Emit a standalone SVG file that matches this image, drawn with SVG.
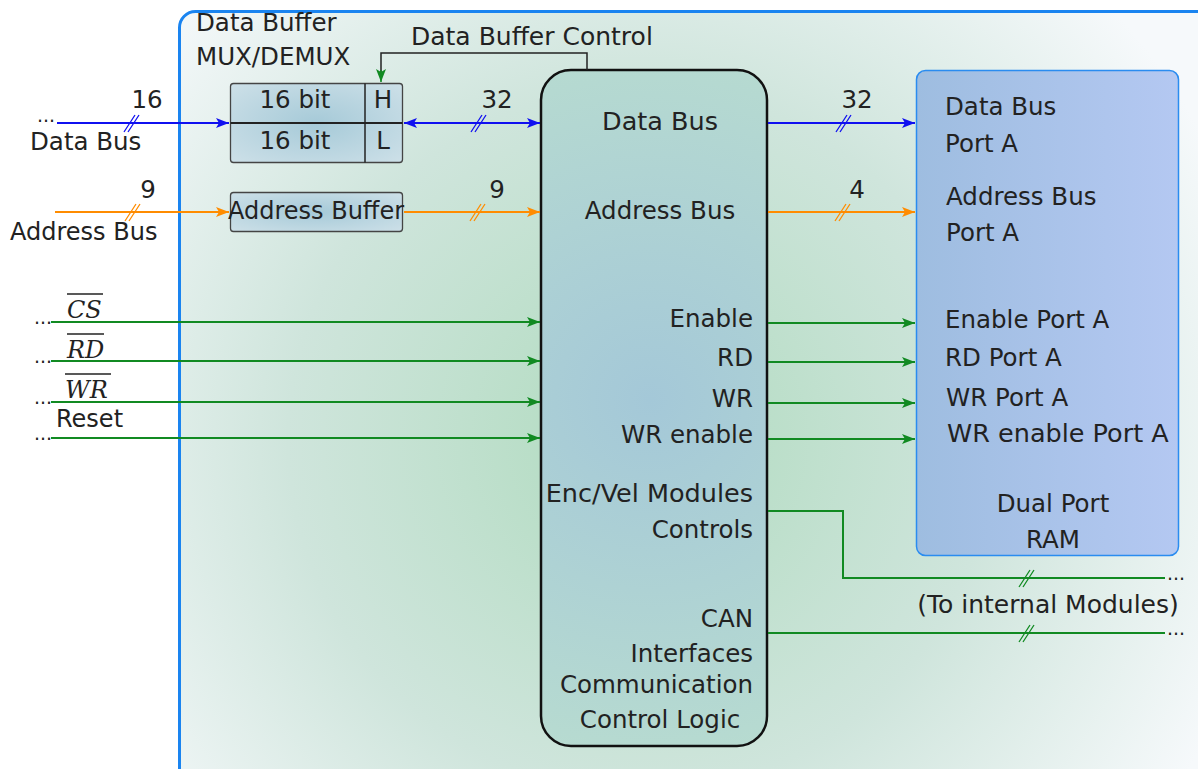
<svg xmlns="http://www.w3.org/2000/svg" width="1198" height="769" viewBox="0 0 1198 769">
  <defs>
    <radialGradient id="bgFill" gradientUnits="userSpaceOnUse" cx="640" cy="440" r="640">
      <stop offset="0" stop-color="#b0dbbf"/>
      <stop offset="0.55" stop-color="#cfe5dc"/>
      <stop offset="1" stop-color="#f6f9fb"/>
    </radialGradient>
    <radialGradient id="coreFill" gradientUnits="userSpaceOnUse" cx="650" cy="400" r="380">
      <stop offset="0" stop-color="#a4c8d8"/>
      <stop offset="1" stop-color="#b8dcd0"/>
    </radialGradient>
    <linearGradient id="ramFill" x1="0" y1="0" x2="1" y2="0">
      <stop offset="0" stop-color="#9ebde0"/>
      <stop offset="1" stop-color="#b4c8f2"/>
    </linearGradient>
    <radialGradient id="bufFill" cx="0.5" cy="0.5" r="0.7">
      <stop offset="0" stop-color="#a6cad8"/>
      <stop offset="1" stop-color="#cde0e8"/>
    </radialGradient>
    <marker id="arBlue" markerUnits="userSpaceOnUse" markerWidth="14" markerHeight="11" refX="13" refY="5.5" orient="auto-start-reverse">
      <path d="M0,0.5 L13,5.5 L0,10.5 L3,5.5 Z" fill="#1010f0"/>
    </marker>
    <marker id="arOrange" markerUnits="userSpaceOnUse" markerWidth="14" markerHeight="11" refX="13" refY="5.5" orient="auto">
      <path d="M0,0.5 L13,5.5 L0,10.5 L3,5.5 Z" fill="#ff8c00"/>
    </marker>
    <marker id="arGreen" markerUnits="userSpaceOnUse" markerWidth="14" markerHeight="11" refX="13" refY="5.5" orient="auto">
      <path d="M0,0.5 L13,5.5 L0,10.5 L3,5.5 Z" fill="#118a22"/>
    </marker>
  </defs>
  <style>
    text { font-family: "DejaVu Sans", "Liberation Sans", sans-serif; font-size: 24.5px; fill: #222; }
    .mid { text-anchor: middle; }
    .end { text-anchor: end; }
    .sm { font-size: 24px; }
    .sig { font-family: "DejaVu Serif", "Liberation Serif", serif; font-style: italic; font-size: 24px; }
    .blue { stroke: #1010f0; stroke-width: 2; fill: none; }
    .orange { stroke: #ff8c00; stroke-width: 2; fill: none; }
    .green { stroke: #118a22; stroke-width: 2; fill: none; }
    .tick { stroke-width: 1.3; }
    .bar { stroke: #222; stroke-width: 1.5; }
    .dots { font-size: 19px; }
  </style>

  <!-- FPGA-side enclosure -->
  <g id="enclosure">
    <rect x="179.5" y="11.5" width="1040" height="790" rx="16" fill="url(#bgFill)" stroke="#1a84f0" stroke-width="3"/>
    <text x="196" y="31">Data Buffer</text>
    <text x="196" y="65">MUX/DEMUX</text>
    <text x="411" y="45" style="font-size:25px">Data Buffer Control</text>
  </g>

  <!-- data buffer MUX/DEMUX -->
  <g id="data-buffer">
    <rect x="230.5" y="83.5" width="172" height="79" rx="3" fill="url(#bufFill)" stroke="#444" stroke-width="1.3"/>
    <line x1="230.5" y1="123" x2="402.5" y2="123" stroke="#222" stroke-width="2"/>
    <line x1="365" y1="83.5" x2="365" y2="162.5" stroke="#222" stroke-width="1.5"/>
    <text class="mid" x="295" y="108">16 bit</text>
    <text class="mid" x="295" y="149">16 bit</text>
    <text class="mid" x="383" y="108">H</text>
    <text class="mid" x="383" y="149">L</text>
  </g>

  <!-- address buffer -->
  <g id="address-buffer">
    <rect x="230.5" y="192.5" width="172" height="39" rx="3" fill="url(#bufFill)" stroke="#444" stroke-width="1.3"/>
    <text class="mid sm" x="316" y="219">Address Buffer</text>
  </g>

  <!-- control logic block -->
  <g id="control-logic">
    <rect x="541" y="70" width="226" height="676" rx="30" fill="url(#coreFill)" stroke="#111" stroke-width="2.5"/>
    <text class="mid" x="660" y="130" style="font-size:25.5px">Data Bus</text>
    <text class="mid" x="660" y="219">Address Bus</text>
    <text class="end" x="753" y="327">Enable</text>
    <text class="end" x="753" y="366">RD</text>
    <text class="end" x="753" y="407">WR</text>
    <text class="end" x="753" y="443">WR enable</text>
    <text class="end" x="753" y="502" style="font-size:25.5px">Enc/Vel Modules</text>
    <text class="end" x="753" y="538">Controls</text>
    <text class="end" x="753" y="627">CAN</text>
    <text class="end" x="753" y="662">Interfaces</text>
    <text class="end" x="753" y="693">Communication</text>
    <text class="mid" x="660" y="728">Control Logic</text>
  </g>

  <!-- dual port RAM -->
  <g id="dual-port-ram">
    <rect x="916.5" y="70.5" width="262" height="485" rx="9" fill="url(#ramFill)" stroke="#2a8cf0" stroke-width="1.5"/>
    <text x="945" y="115">Data Bus</text>
    <text x="945" y="152">Port A</text>
    <text x="946" y="205">Address Bus</text>
    <text x="946" y="241">Port A</text>
    <text x="945" y="328">Enable Port A</text>
    <text x="945" y="366">RD Port A</text>
    <text x="946" y="406">WR Port A</text>
    <text x="947" y="442" style="font-size:25.5px">WR enable Port A</text>
    <text class="mid" x="1053" y="512">Dual Port</text>
    <text class="mid" x="1053" y="548">RAM</text>
  </g>

  <!-- external signal labels -->
  <g id="external-labels">
    <text class="dots" x="37" y="122">...</text>
    <text x="30" y="150">Data Bus</text>
    <text class="mid" x="147" y="108">16</text>
    <text x="10" y="240" class="sm">Address Bus</text>
    <text class="mid" x="148" y="198">9</text>
    <text class="dots" x="34" y="324">...</text>
    <text class="dots" x="34" y="363">...</text>
    <text class="dots" x="34" y="404">...</text>
    <text class="dots" x="34" y="440">...</text>
    <text class="sig" x="67" y="318">CS</text>
    <line class="bar" x1="67" y1="294" x2="103" y2="294"/>
    <text class="sig" x="67" y="358">RD</text>
    <line class="bar" x1="67" y1="334" x2="104" y2="334"/>
    <text class="sig" x="65" y="398">WR</text>
    <line class="bar" x1="65" y1="374" x2="111" y2="374"/>
    <text x="56" y="427" class="sm">Reset</text>
    <text class="mid" x="497" y="108">32</text>
    <text class="mid" x="497" y="198">9</text>
    <text class="mid" x="857" y="108">32</text>
    <text class="mid" x="857" y="198">4</text>
    <text class="dots" x="1167" y="580">...</text>
    <text class="dots" x="1167" y="635">...</text>
    <text class="mid" x="1048" y="613" style="font-size:25px">(To internal Modules)</text>
  </g>

  <!-- connectors -->
  <g id="connectors">
    <!-- data bus -->
    <line class="blue" x1="57" y1="123" x2="229" y2="123" marker-end="url(#arBlue)"/>
    <line class="blue" x1="404" y1="123" x2="540" y2="123" marker-start="url(#arBlue)" marker-end="url(#arBlue)"/>
    <line class="blue" x1="768" y1="123" x2="915" y2="123" marker-end="url(#arBlue)"/>
    <path class="blue tick" d="M124,132 L135,115 M128,132 L139,115 M471,132 L482,115 M475,132 L486,115 M836,132 L847,115 M840,132 L851,115"/>
    <!-- address bus -->
    <line class="orange" x1="55" y1="212" x2="229" y2="212" marker-end="url(#arOrange)"/>
    <line class="orange" x1="404" y1="212" x2="540" y2="212" marker-end="url(#arOrange)"/>
    <line class="orange" x1="768" y1="212" x2="915" y2="212" marker-end="url(#arOrange)"/>
    <path class="orange tick" d="M125,221 L136,204 M129,221 L140,204 M470,221 L481,204 M474,221 L485,204 M835,221 L846,204 M839,221 L850,204"/>
    <!-- control strobes in -->
    <line class="green" x1="51" y1="322" x2="540" y2="322" marker-end="url(#arGreen)"/>
    <line class="green" x1="51" y1="361" x2="540" y2="361" marker-end="url(#arGreen)"/>
    <line class="green" x1="51" y1="402" x2="540" y2="402" marker-end="url(#arGreen)"/>
    <line class="green" x1="51" y1="438" x2="540" y2="438" marker-end="url(#arGreen)"/>
    <!-- port A strobes -->
    <line class="green" x1="768" y1="323" x2="915" y2="323" marker-end="url(#arGreen)"/>
    <line class="green" x1="768" y1="362" x2="915" y2="362" marker-end="url(#arGreen)"/>
    <line class="green" x1="768" y1="403" x2="915" y2="403" marker-end="url(#arGreen)"/>
    <line class="green" x1="768" y1="439" x2="915" y2="439" marker-end="url(#arGreen)"/>
    <!-- module buses -->
    <polyline class="green" points="768,511 843,511 843,578 1165,578"/>
    <line class="green" x1="768" y1="633" x2="1165" y2="633"/>
    <path class="green tick" d="M1019,587 L1030,570 M1023,587 L1034,570 M1019,642 L1030,625 M1023,642 L1034,625"/>
    <!-- buffer direction control -->
    <polyline points="587,70 587,53 381,53 381,72" fill="none" stroke="#222" stroke-width="1.5"/>
    <line x1="381" y1="70" x2="381" y2="82" stroke="#118a22" stroke-width="1.5" marker-end="url(#arGreen)"/>
  </g>
</svg>
